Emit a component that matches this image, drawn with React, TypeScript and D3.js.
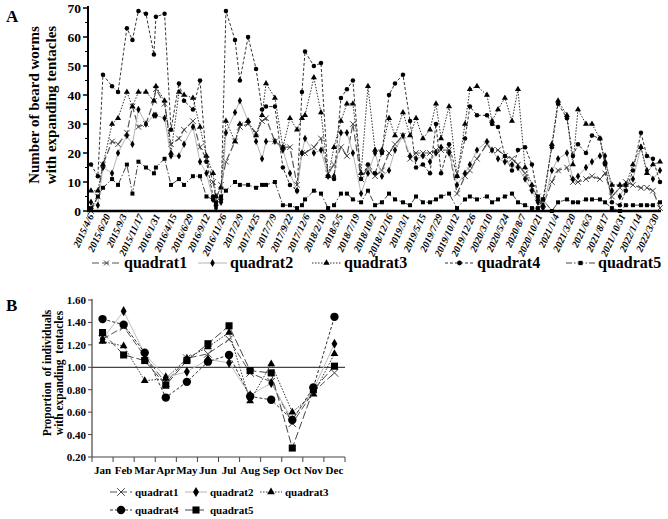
import * as d3 from "d3";

// sampling dates shared by the five quadrats (panel A)
const sampleDates = [
  "2015-04-06", "2015-05-07", "2015-05-30", "2015-07-10", "2015-08-06", "2015-09-15",
  "2015-10-10", "2015-11-06", "2015-12-10", "2016-01-15", "2016-01-24", "2016-03-03",
  "2016-04-01", "2016-05-07", "2016-05-30", "2016-07-09", "2016-08-10", "2016-09-08",
  "2016-10-08", "2016-10-21", "2016-11-13", "2016-12-05", "2017-01-15", "2017-02-06",
  "2017-03-15", "2017-04-20", "2017-05-17", "2017-06-04", "2017-07-14", "2017-08-19",
  "2017-09-20", "2017-10-22", "2017-11-13", "2017-11-27", "2018-01-06", "2018-02-07",
  "2018-03-11", "2018-04-07", "2018-05-08", "2018-06-04", "2018-07-01", "2018-08-07",
  "2018-09-07", "2018-10-09", "2018-11-09", "2018-12-11", "2019-01-07", "2019-02-12",
  "2019-03-16", "2019-04-12", "2019-05-13", "2019-06-14", "2019-07-11", "2019-08-03",
  "2019-09-08", "2019-10-14", "2019-11-19", "2019-12-11", "2020-01-12", "2020-02-26",
  "2020-03-20", "2020-04-16", "2020-05-17", "2020-06-18", "2020-07-15", "2020-08-16",
  "2020-09-16", "2020-10-13", "2020-11-05", "2020-12-15", "2021-01-12", "2021-02-21",
  "2021-03-20", "2021-04-12", "2021-05-18", "2021-06-14", "2021-07-20", "2021-08-12",
  "2021-09-12", "2021-10-18", "2021-11-14", "2021-12-16", "2022-01-21", "2022-02-17",
  "2022-03-16", "2022-04-17",
];

const quadrat1 = [
  0, 5, 16, 24, 23, 27, 36, 29, 30, 38, 42, 37, 23, 25, 28, 31, 22, 18, 10, 4, 9,
  17, 24, 29, 30, 27, 31, 32, 24, 22, 22, 9, 20, 20, 22, 25, 13, 16, 22, 19, 30,
  11, 15, 12, 14, 20, 23, 26, 18, 20, 20, 20, 21, 21, 21, 6, 12, 14, 18, 23, 21,
  21, 19, 18, 16, 13, 8, 5, 2, 10, 14, 15, 10, 10, 11, 12, 11, 13, 5, 8, 10, 9, 8,
  8, 7, 1,
];
const quadrat2 = [
  3, 2, 15, 13, 20, 26, 23, 35, 30, 33, 33, 32, 19, 19, 23, 29, 17, 13, 4, 1, 3,
  27, 34, 38, 31, 24, 18, 24, 24, 21, 13, 7, 20, 25, 20, 21, 12, 12, 27, 27, 20,
  6, 13, 20, 12, 14, 21, 26, 19, 18, 19, 17, 20, 22, 20, 9, 13, 16, 21, 24, 21,
  18, 17, 16, 15, 11, 7, 3, 1, 14, 18, 20, 11, 12, 15, 17, 19, 19, 7, 5, 9, 11, 22,
  14, 11, 14,
];
const quadrat3 = [
  7, 7, 16, 30, 32, 41, 36, 41, 41, 38, 43, 38, 20, 41, 40, 39, 29, 19, 13, 5, 8,
  31, 24, 30, 31, 26, 33, 44, 39, 22, 32, 28, 32, 33, 46, 34, 12, 22, 31, 37, 37,
  13, 43, 21, 21, 32, 26, 34, 26, 32, 25, 28, 37, 25, 36, 12, 30, 42, 43, 40, 31,
  35, 39, 31, 42, 15, 9, 4, 2, 23, 38, 33, 16, 35, 30, 30, 25, 17, 9, 9, 9, 16, 22,
  13, 16, 17,
];
const quadrat4 = [
  16, 12, 47, 43, 41, 63, 59, 69, 68, 54, 67, 68, 28, 44, 38, 35, 45, 17, 5, 2, 4,
  69, 59, 45, 60, 49, 35, 36, 36, 15, 9, 7, 41, 55, 50, 51, 12, 11, 39, 42, 45,
  11, 16, 13, 20, 40, 44, 47, 31, 15, 16, 13, 30, 13, 23, 12, 25, 36, 33, 33, 30,
  29, 19, 14, 21, 22, 16, 5, 4, 22, 37, 32, 19, 23, 20, 26, 25, 16, 3, 2, 7, 14, 27,
  19, 18, 10,
];
const quadrat5 = [
  1, 5, 8, 11, 9, 16, 6, 17, 15, 13, 15, 18, 9, 11, 9, 12, 12, 5, 4, 3, 5, 7, 10,
  9, 9, 8, 9, 9, 10, 2, 2, 1, 2, 4, 7, 6, 1, 2, 6, 6, 4, 3, 7, 2, 3, 6, 4, 3, 2, 5,
  3, 3, 4, 5, 6, 1, 4, 5, 4, 5, 3, 4, 5, 6, 3, 2, 1, 1, 4, 0, 3, 4, 3, 3, 4, 4, 4,
  3, 1, 0, 2, 2, 2, 2, 2, 3,
];

const dateTicks = [
  "2015/4/6", "2015/6/20", "2015/9/3", "2015/11/17", "2016/1/31", "2016/4/15",
  "2016/6/29", "2016/9/12", "2016/11/26", "2017/2/9", "2017/4/25", "2017/7/9",
  "2017/9/22", "2017/12/6", "2018/2/19", "2018/5/5", "2018/7/19", "2018/10/2",
  "2018/12/16", "2019/3/1", "2019/5/15", "2019/7/29", "2019/10/12", "2019/12/26",
  "2020/3/10", "2020/5/24", "2020/8/7", "2020/10/21", "2021/1/4", "2021/3/20",
  "2021/6/3", "2021/8/17", "2021/10/31", "2022/1/14", "2022/3/30",
];

// panel B: monthly proportions
const months = ["Jan", "Feb", "Mar", "Apr", "May", "Jun", "Jul", "Aug", "Sep", "Oct", "Nov", "Dec"];
const propQ1 = [1.25, 1.36, 1.1, 0.86, 1.08, 1.12, 1.25, 0.95, 0.87, 0.5, 0.78, 0.95];
const propQ2 = [1.25, 1.5, 1.12, 0.91, 0.96, 1.07, 1.04, 0.75, 0.86, 0.53, 0.8, 1.21];
const propQ3 = [1.23, 1.19, 0.88, 0.9, 1.08, 1.18, 1.31, 0.7, 1.03, 0.6, 0.76, 1.12];
const propQ4 = [1.43, 1.38, 1.13, 0.73, 0.87, 1.05, 1.11, 0.74, 0.71, 0.53, 0.82, 1.45];
const propQ5 = [1.31, 1.11, 1.06, 0.84, 1.06, 1.21, 1.37, 0.97, 0.95, 0.28, 0.8, 1.01];

const seriesNames = ["quadrat1", "quadrat2", "quadrat3", "quadrat4", "quadrat5"];
const countSeries = [quadrat1, quadrat2, quadrat3, quadrat4, quadrat5];
const propSeries = [propQ1, propQ2, propQ3, propQ4, propQ5];

const styles = [
  { stroke: "#555", dash: "7,3", width: 1.2, symbol: d3.symbolTimes, hollow: true },
  { stroke: "#b5b5b5", dash: null, width: 1, symbol: d3.symbolDiamond, hollow: false },
  { stroke: "#333", dash: "1.5,1.5", width: 1, symbol: d3.symbolTriangle, hollow: false },
  { stroke: "#333", dash: "3,2", width: 1, symbol: d3.symbolCircle, hollow: false },
  { stroke: "#444", dash: "6,2,1.5,2", width: 1, symbol: d3.symbolSquare, hollow: false },
];

const font = "'Liberation Serif', 'Times New Roman', serif";

const toDate = (s) => {
  const [y, m, d] = s.split(/[-/]/).map(Number);
  return new Date(y, m - 1, d);
};

const Marker = ({ s, x, y, size }) => {
  const path = d3.symbol().type(s.symbol).size(size)();
  return s.hollow ? (
    <path d={path} transform={`translate(${x},${y})`} fill="none" stroke="#444" strokeWidth={1} />
  ) : (
    <path d={path} transform={`translate(${x},${y})`} fill="#000" />
  );
};

const LegendItem = ({ s, x, y, name, len, size, fontSize }) => (
  <g>
    <line x1={x} x2={x + len} y1={y} y2={y} stroke={s.stroke} strokeWidth={s.width}
      strokeDasharray={s.dash || undefined} />
    <Marker s={s} x={x + len / 2} y={y} size={size} />
    <text x={x + len + 3} y={y + fontSize * 0.33} fontSize={fontSize} fontWeight="bold">{name}</text>
  </g>
);

const PanelA = () => {
  const x = d3.scaleTime().domain([toDate("2015-04-06"), toDate("2022-03-30")]).range([91, 656]);
  const y = d3.scaleLinear().domain([0, 70]).range([211, 8]);
  const dates = sampleDates.map(toDate);
  const line = d3.line().x((d) => d[0]).y((d) => d[1]);
  const majors = d3.range(0, 71, 10);
  const minors = d3.range(5, 70, 10);
  return (
    <g fontFamily={font}>
      <text x={6} y={22} fontSize={17} fontWeight="bold">A</text>
      <text transform={`translate(39,105) rotate(-90)`} textAnchor="middle" fontSize={15} fontWeight="bold">
        Number of beard worms
      </text>
      <text transform={`translate(56,105) rotate(-90)`} textAnchor="middle" fontSize={15} fontWeight="bold">
        with expanding tentacles
      </text>
      {majors.map((v) => (
        <g key={v}>
          <line x1={83} x2={88} y1={y(v)} y2={y(v)} stroke="#000" strokeWidth={1.5} />
          <text x={81} y={y(v) + 5} textAnchor="end" fontSize={13.5} fontWeight="bold">{v}</text>
        </g>
      ))}
      {minors.map((v) => (
        <line key={v} x1={85} x2={88} y1={y(v)} y2={y(v)} stroke="#000" strokeWidth={1} />
      ))}
      {countSeries.map((vals, k) => {
        const s = styles[k];
        const pts = vals.map((v, i) => [x(dates[i]), y(v)]);
        return (
          <g key={k}>
            <path d={line(pts)} fill="none" stroke={s.stroke} strokeWidth={s.width}
              strokeDasharray={s.dash || undefined} />
            {pts.map((p, i) => (
              <Marker key={i} s={s} x={p[0]} y={p[1]} size={k === 0 ? 22 : 16} />
            ))}
          </g>
        );
      })}
      <line x1={88} x2={88} y1={6} y2={212} stroke="#000" strokeWidth={2} />
      <line x1={87} x2={661} y1={211} y2={211} stroke="#000" strokeWidth={2.5} />
      {dateTicks.map((t) => {
        const px = x(toDate(t));
        return (
          <text key={t} transform={`translate(${px + 3},${216}) rotate(-65)`} textAnchor="end"
            fontSize={10} fontWeight="bold" fontStyle="italic">{t}</text>
        );
      })}
      {seriesNames.map((n, k) => (
        <LegendItem key={n} s={styles[k]} x={[92, 198, 312, 445, 566][k]} y={263} name={n}
          len={29} size={18} fontSize={16} />
      ))}
    </g>
  );
};

const PanelB = () => {
  const x = d3.scaleBand().domain(months).range([92, 345]);
  const y = d3.scaleLinear().domain([0.2, 1.6]).range([457, 300]);
  const line = d3.line().x((d) => d[0]).y((d) => d[1]);
  const yt = d3.range(0.2, 1.61, 0.2);
  const sizes = [40, 30, 26, 55, 50];
  return (
    <g fontFamily={font}>
      <text x={6} y={311} fontSize={17} fontWeight="bold">B</text>
      <text transform={`translate(51,373) rotate(-90)`} textAnchor="middle" fontSize={11.5} fontWeight="bold"
        style={{ whiteSpace: "pre" }}>
        {"Proportion  of individuals"}
      </text>
      <text transform={`translate(63,373) rotate(-90)`} textAnchor="middle" fontSize={11.5} fontWeight="bold"
        style={{ whiteSpace: "pre" }}>
        {"with expanding  tentacles"}
      </text>
      {yt.map((v) => (
        <g key={v}>
          <line x1={88} x2={92} y1={y(v)} y2={y(v)} stroke="#444" />
          <text x={86} y={y(v) + 4} textAnchor="end" fontSize={11} fontWeight="bold">{v.toFixed(2)}</text>
        </g>
      ))}
      <line x1={92} x2={92} y1={299} y2={457} stroke="#444" strokeWidth={1.2} />
      <line x1={92} x2={345} y1={457} y2={457} stroke="#444" strokeWidth={1.2} />
      {months.map((m) => (
        <g key={m}>
          <line x1={x(m) + x.bandwidth()} x2={x(m) + x.bandwidth()} y1={457} y2={462} stroke="#444" />
          <text x={x(m) + x.bandwidth() / 2} y={474} textAnchor="middle" fontSize={11} fontWeight="bold">{m}</text>
        </g>
      ))}
      <line x1={92} x2={92} y1={457} y2={462} stroke="#444" />
      <line x1={92} x2={345} y1={y(1)} y2={y(1)} stroke="#444" strokeWidth={1.3} />
      {propSeries.map((vals, k) => {
        const s = styles[k];
        const pts = vals.map((v, i) => [x(months[i]) + x.bandwidth() / 2, y(v)]);
        return (
          <g key={k}>
            <path d={line(pts)} fill="none" stroke={k === 1 ? "#bdbdbd" : s.stroke} strokeWidth={1}
              strokeDasharray={k === 4 ? "8,3" : s.dash || undefined} />
            {pts.map((p, i) => (
              <Marker key={i} s={s} x={p[0]} y={p[1]} size={sizes[k]} />
            ))}
          </g>
        );
      })}
      {seriesNames.map((n, k) => (
        <LegendItem key={n} s={k === 4 ? { ...styles[k], dash: "8,3" } : styles[k]}
          x={[110, 185, 260, 110, 185][k]} y={k < 3 ? 492 : 510} name={n}
          len={22} size={sizes[k]} fontSize={11} />
      ))}
    </g>
  );
};

export default function App() {
  return (
    <svg width={668} height={519} style={{ position: "absolute", left: 0, top: 0, background: "#fff" }}>
      <rect width={668} height={519} fill="#fff" />
      <PanelA />
      <PanelB />
    </svg>
  );
}
